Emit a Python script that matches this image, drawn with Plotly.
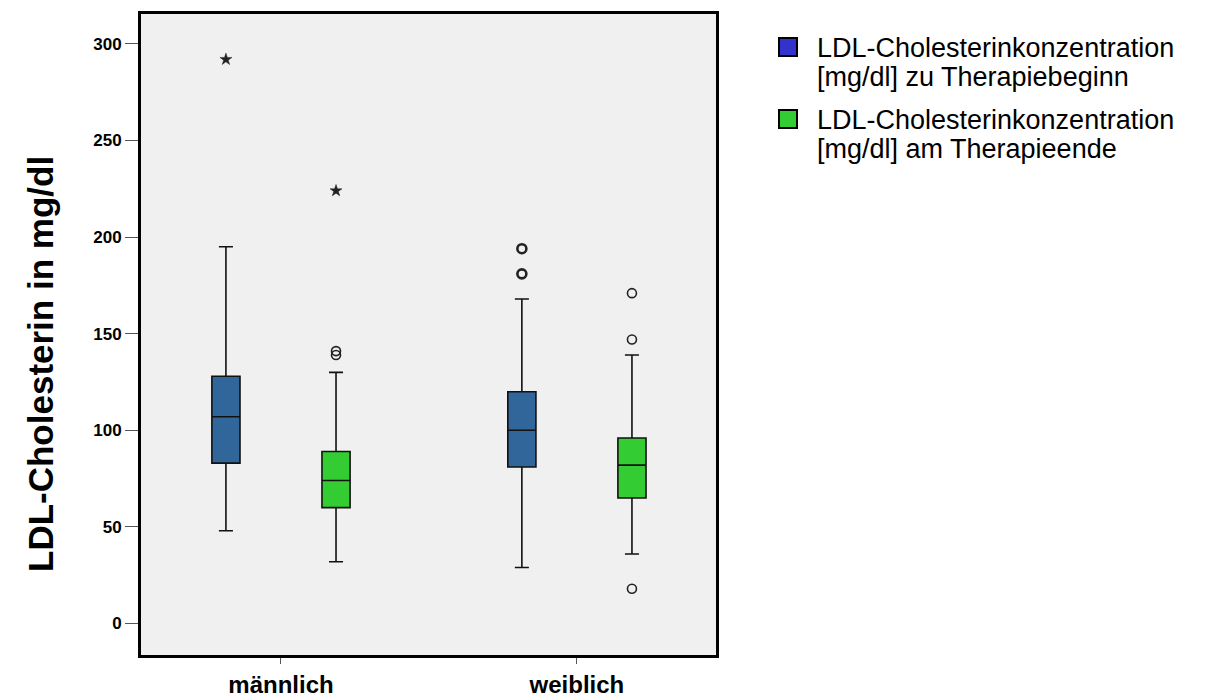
import plotly.graph_objects as go

categories = ["männlich", "weiblich"]
series_names = [
    "LDL-Cholesterinkonzentration<br>[mg/dl] zu Therapiebeginn",
    "LDL-Cholesterinkonzentration<br>[mg/dl] am Therapieende",
]
# five-number summaries per category
begin_q1 = [83, 81]
begin_median = [107, 100]
begin_q3 = [128, 120]
begin_low = [48, 29]
begin_high = [195, 168]
end_q1 = [60, 65]
end_median = [74, 82]
end_q3 = [89, 96]
end_low = [32, 36]
end_high = [130, 139]
# outliers: (category index, value)
begin_circles = [(1, 194), (1, 181)]
begin_stars = [(0, 292)]
end_circles = [(0, 139), (0, 141), (1, 171), (1, 147), (1, 18)]
end_stars = [(0, 224)]
y_ticks = [0, 50, 100, 150, 200, 250, 300]

BLUE_BOX = "#31669a"
GREEN_BOX = "#33cc33"
LEG_BLUE = "#3333cc"
LEG_GREEN = "#33cc33"
OFF = 0.186
BW = 0.095

L, R, T, B = 141, 716, 14, 655
W, H = 1206, 697
PW, PH = R - L, B - T

fig = go.Figure()
for vals, off, color in [
    ((begin_q1, begin_median, begin_q3, begin_low, begin_high), -OFF, BLUE_BOX),
    ((end_q1, end_median, end_q3, end_low, end_high), OFF, GREEN_BOX),
]:
    q1, med, q3, lo, hi = vals
    fig.add_trace(go.Box(
        x=[i + off for i in range(len(categories))],
        q1=q1, median=med, q3=q3, lowerfence=lo, upperfence=hi,
        width=BW, fillcolor=color, line=dict(color="#111111", width=1.6),
        whiskerwidth=0.5, boxpoints=False, showlegend=False, hoverinfo="skip",
    ))

def add_points(pts, off, symbol, size, lw):
    fig.add_trace(go.Scatter(
        x=[c + off for c, v in pts], y=[v for c, v in pts], mode="markers",
        marker=dict(symbol=symbol, size=size, color="#222222",
                    line=dict(color="#222222", width=lw)),
        showlegend=False, hoverinfo="skip",
    ))

add_points(begin_circles, -OFF, "circle-open", 9, 2.6)
add_points(begin_stars, -OFF, "star", 9, 0.5)
add_points(end_circles, OFF, "circle-open", 9, 1.6)
add_points(end_stars, OFF, "star", 9, 0.5)

fig.update_layout(
    width=W, height=H,
    margin=dict(l=L, r=W - R, t=T, b=H - B),
    paper_bgcolor="white", plot_bgcolor="#f0f0f0",
    font=dict(family="Liberation Sans, Arial, sans-serif", color="black"),
    showlegend=False,
)
fig.update_xaxes(
    range=[-0.473, 1.470], tickvals=list(range(len(categories))), ticktext=categories,
    showgrid=False, zeroline=False, showline=True, mirror=True, linewidth=3, linecolor="black",
    ticks="outside", ticklen=6, tickcolor="#555555", tickwidth=1, automargin=False,
    tickfont=dict(size=24, family="Liberation Sans, Arial, sans-serif", weight="bold"),
)
fig.update_yaxes(
    range=[-16.3, 315.5], tickvals=y_ticks,
    showgrid=False, zeroline=False, showline=True, mirror=True, linewidth=3, linecolor="black",
    ticks="outside", ticklen=13, tickcolor="#555555", tickwidth=1, automargin=False,
    tickfont=dict(size=17, family="Liberation Sans, Arial, sans-serif", weight="bold"),
)
fig.add_annotation(
    text="LDL-Cholesterin in mg/dl", textangle=-90, xref="paper", yref="paper",
    x=(40 - L) / PW, y=(B - 364) / PH, xanchor="center", yanchor="middle", showarrow=False,
    font=dict(size=35, weight="bold"),
)
# custom legend
leg_colors = [LEG_BLUE, LEG_GREEN]
leg_y = [47, 119]
for name, col, yc in zip(series_names, leg_colors, leg_y):
    fig.add_shape(type="rect", xref="paper", yref="paper",
                  x0=(779 - L) / PW, x1=(797 - L) / PW,
                  y0=(B - (yc + 9)) / PH, y1=(B - (yc - 9)) / PH,
                  fillcolor=col, line=dict(color="black", width=2))
    lines = name.split("<br>")
    for k, ln in enumerate(lines):
        fig.add_annotation(text=ln, xref="paper", yref="paper", xanchor="left", yanchor="middle",
                           x=(815 - L) / PW, y=(B - (yc + 1 + 28.5 * k)) / PH,
                           showarrow=False, font=dict(size=27, color="black"))

fig.write_html("out.html")
